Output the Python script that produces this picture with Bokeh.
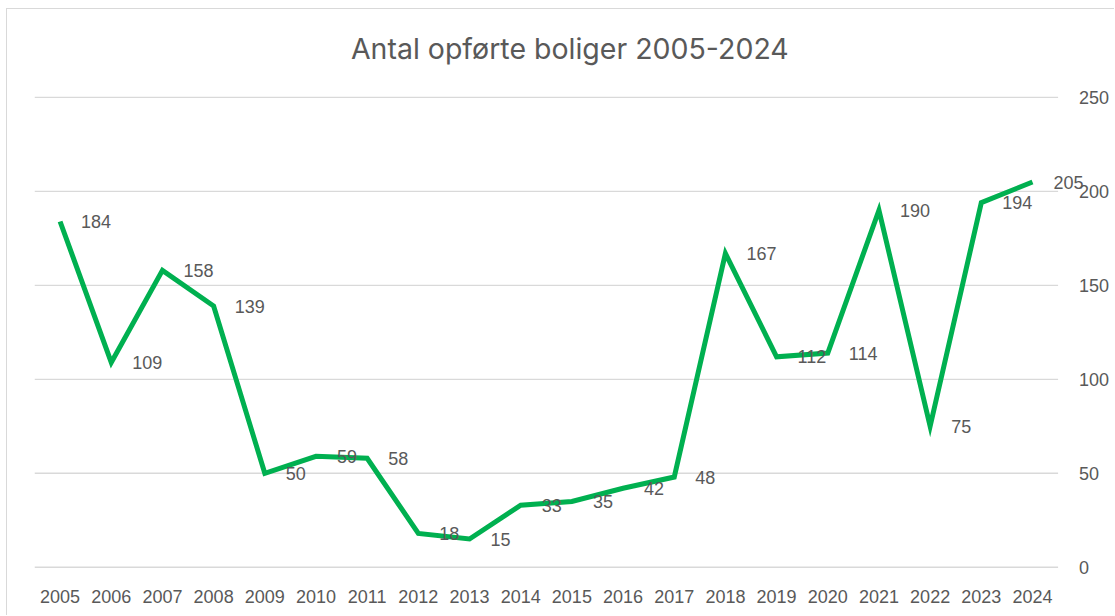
from bokeh.plotting import figure
from bokeh.models import ColumnDataSource, LinearAxis, FixedTicker, Range1d
from bokeh.core.properties import value
from bokeh.embed import file_html
from bokeh.resources import INLINE

years = [2005, 2006, 2007, 2008, 2009, 2010, 2011, 2012, 2013, 2014,
         2015, 2016, 2017, 2018, 2019, 2020, 2021, 2022, 2023, 2024]
values = [184, 109, 158, 139, 50, 59, 58, 18, 15, 33,
          35, 42, 48, 167, 112, 114, 190, 75, 194, 205]
y_ticks = [0, 50, 100, 150, 200, 250]
title_text = "Antal opførte boliger 2005-2024"

GREY = "#595959"
PX_PER_YEAR = 51.16
PX_PER_UNIT = 1.88

x0 = years[0] - 0.5
x1 = years[-1] + 0.5
x_end = x1 + (1115 - 1057.6) / PX_PER_YEAR
y_start = -6
y_end = (567 - 20) / PX_PER_UNIT

src = ColumnDataSource(dict(x=years, y=values, lbl=[str(v) for v in values]))
grid_src = ColumnDataSource(dict(
    x0=[x0] * len(y_ticks), x1=[x1] * len(y_ticks), y=y_ticks,
    lx=[x1 + 21 / PX_PER_YEAR] * len(y_ticks), lbl=[str(t) for t in y_ticks]))

p = figure(width=1108, height=607, output_backend="svg", toolbar_location=None,
           x_range=Range1d(x0, x_end), y_range=Range1d(y_start, y_end),
           x_axis_location=None, y_axis_location=None,
           min_border_left=27, min_border_right=0, min_border_top=11, min_border_bottom=38)
p.outline_line_color = None
p.styles = {"margin-left": "6px", "margin-top": "8px",
            "border-left": "1px solid #d9d9d9", "border-top": "1px solid #d9d9d9"}
p.xgrid.grid_line_color = None
p.ygrid.grid_line_color = None

# horizontal gridlines
p.segment(x0="x0", x1="x1", y0="y", y1="y", source=grid_src,
          line_color="#d9d9d9", line_width=1.3)

# right-hand value labels
p.text(x="lx", y="y", text="lbl", source=grid_src, text_align="left", text_baseline="middle",
       text_font=value("Liberation Sans"), text_font_size="18px", text_color=GREY)

# the series
p.line("x", "y", source=src, line_color="#00b050", line_width=5, line_join="miter")

# data labels
p.text(x="x", y="y", text="lbl", source=src, x_offset=21, text_align="left",
       text_baseline="middle", text_font=value("Liberation Sans"), text_font_size="18px",
       text_color=GREY)

# title
p.text(x=[2014.96], y=[(567 - 48) / PX_PER_UNIT], text=[title_text], text_align="center",
       text_baseline="middle", text_font=value("Inter"), text_font_size="28.5px", text_color=GREY)

xa = LinearAxis(ticker=FixedTicker(ticks=years))
xa.axis_line_color = None
xa.major_tick_line_color = None
xa.minor_tick_line_color = None
xa.major_label_text_font = "Liberation Sans"
xa.major_label_text_font_size = "18px"
xa.major_label_text_color = GREY
xa.major_label_standoff = 5
p.add_layout(xa, "below")

open("out.html", "w").write(file_html(p, INLINE))
